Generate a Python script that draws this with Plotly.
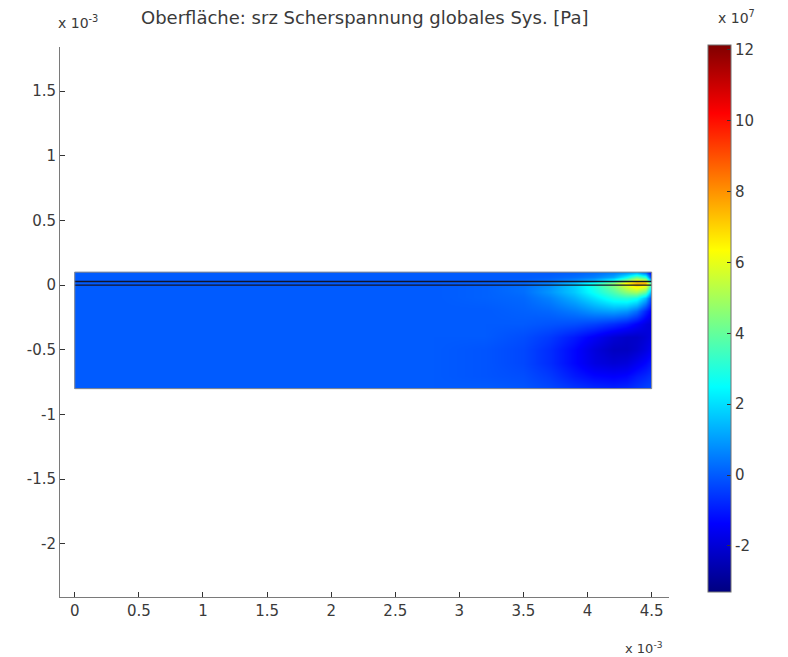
import numpy as np
import plotly.graph_objects as go

# Shear stress srz on the cross-section (values in units of 1e7 Pa, coordinates in mm)
x_nodes = [0.0, 1.0, 2.0, 2.8, 3.2, 3.5, 3.7, 3.9, 4.05, 4.2, 4.3, 4.38, 4.45, 4.5]
y_nodes = [0.1, 0.06, 0.03, 0.015, 0.0, -0.05, -0.1, -0.2, -0.3, -0.4, -0.5, -0.6, -0.7, -0.8]

srz = [
    [0, 0, 0, 0, 0.0, 0.0, 0.0, 0.1, 0.3, 0.6, 1.0, 1.5, 0.5, -1.5],
    [0, 0, 0, 0, 0.0, 0.0, 0.1, 0.3, 0.6, 1.2, 2.5, 4.0, 3.0, -1.0],
    [0, 0, 0, 0, 0.0, 0.1, 0.3, 0.8, 1.5, 3.0, 5.0, 6.5, 6.0, 1.0],
    [0, 0, 0, 0, 0.1, 0.2, 0.6, 1.5, 2.8, 4.5, 6.5, 7.5, 7.5, 3.0],
    [0, 0, 0, 0, 0.1, 0.3, 0.8, 1.8, 3.0, 4.5, 6.0, 7.0, 6.5, 3.0],
    [0, 0, 0, 0, 0.1, 0.3, 0.9, 1.7, 2.7, 3.7, 4.6, 5.0, 4.0, 1.0],
    [0, 0, 0, 0, 0.1, 0.2, 0.6, 1.3, 2.1, 2.9, 3.1, 2.8, 1.5, -0.5],
    [0, 0, 0, 0, 0.0, 0.1, 0.2, 0.5, 0.9, 1.1, 0.9, 0.3, -0.8, -1.5],
    [0, 0, 0, 0, 0.0, 0.0, -0.1, -0.2, -0.4, -0.7, -1.0, -1.4, -1.8, -2.0],
    [0, 0, 0, 0, 0.0, -0.2, -0.5, -1.0, -1.5, -2.0, -2.2, -2.2, -2.0, -1.8],
    [0, 0, 0, 0, -0.1, -0.3, -0.7, -1.3, -1.9, -2.3, -2.3, -2.1, -1.8, -1.5],
    [0, 0, 0, 0, -0.1, -0.3, -0.7, -1.3, -1.8, -2.0, -1.9, -1.6, -1.3, -1.0],
    [0, 0, 0, 0, -0.1, -0.2, -0.5, -1.0, -1.3, -1.4, -1.3, -1.0, -0.8, -0.6],
    [0, 0, 0, 0, 0.0, -0.1, -0.3, -0.6, -0.8, -0.9, -0.8, -0.6, -0.4, -0.3],
]

# Colour range of the colour bar
c_min, c_max = -3.3, 12.14
cbar_ticks = [-2, 0, 2, 4, 6, 8, 10, 12]

x_ticks = [0, 0.5, 1, 1.5, 2, 2.5, 3, 3.5, 4, 4.5]
x_tick_text = ["0", "0.5", "1", "1.5", "2", "2.5", "3", "3.5", "4", "4.5"]
y_ticks = [-2, -1.5, -1, -0.5, 0, 0.5, 1, 1.5]
y_tick_text = ["-2", "-1.5", "-1", "-0.5", "0", "0.5", "1", "1.5"]

# Domain boundaries
x_left, x_right = 0.0, 4.5
y_top, y_bottom = 0.1, -0.8
layer_lines = [0.028, 0.0]

jet = [
    [0.0, "rgb(0,0,128)"],
    [0.125, "rgb(0,0,255)"],
    [0.375, "rgb(0,255,255)"],
    [0.625, "rgb(255,255,0)"],
    [0.875, "rgb(255,0,0)"],
    [1.0, "rgb(128,0,0)"],
]

# pad the grid with nodes right at the edges so the smoothed image stays inside the domain
z = np.array(srz, dtype=float)
xa = np.array(x_nodes)
ya = np.array(y_nodes)
eps = 0.004
xa = np.concatenate([[xa[0]], [xa[0] + eps], xa[1:-1], [xa[-1] - eps], [xa[-1]]])
z = np.concatenate([z[:, :1], z[:, :1], z[:, 1:-1], z[:, -1:], z[:, -1:]], axis=1)
ya = np.concatenate([[ya[0]], [ya[0] - eps], ya[1:-1], [ya[-1] + eps], [ya[-1]]])
z = np.concatenate([z[:1], z[:1], z[1:-1], z[-1:], z[-1:]], axis=0)

FAMILY = "DejaVu Sans, Liberation Sans, sans-serif"
TXT = "#3a3a3a"
font = dict(family=FAMILY, size=15, color=TXT)

# plot area in pixels: x 60..669, y 47..597
plot_w, plot_h = 609, 550

fig = go.Figure()
fig.add_trace(go.Heatmap(
    x=xa, y=ya, z=z,
    zsmooth="best",
    colorscale=jet, zmin=c_min, zmax=c_max,
    hoverinfo="skip",
    colorbar=dict(
        x=(708 - 60) / plot_w, xanchor="left",
        y=(597 - 45) / plot_h, yanchor="top",
        thicknessmode="pixels", thickness=23,
        lenmode="pixels", len=547,
        outlinecolor="#707070", outlinewidth=1,
        tickvals=cbar_ticks, ticktext=[str(t) for t in cbar_ticks],
        ticks="inside", ticklen=4, tickcolor="#333",
        tickfont=dict(family=FAMILY, size=15, color=TXT),
        xpad=0, ypad=0,
    ),
))

# layer boundary lines
for yl in layer_lines:
    fig.add_trace(go.Scatter(
        x=[x_left, x_right], y=[yl, yl], mode="lines",
        line=dict(color="#141428", width=1.4),
        showlegend=False, hoverinfo="skip",
    ))

# domain outline
fig.add_trace(go.Scatter(
    x=[x_left, x_right, x_right, x_left, x_left],
    y=[y_top, y_top, y_bottom, y_bottom, y_top],
    mode="lines", line=dict(color="#8a8a8a", width=1),
    showlegend=False, hoverinfo="skip",
))

fig.update_layout(
    width=788, height=657,
    margin=dict(l=60, r=119, t=47, b=60),
    paper_bgcolor="white", plot_bgcolor="white",
    font=font,
    showlegend=False,
    xaxis=dict(
        range=[-0.115, 4.635], showgrid=False, zeroline=False,
        showline=True, linecolor="#7a7a7a", linewidth=1,
        ticks="inside", ticklen=5, tickcolor="#333",
        tickvals=x_ticks, ticktext=x_tick_text,
    ),
    yaxis=dict(
        range=[-2.41, 1.84], showgrid=False, zeroline=False,
        showline=True, linecolor="#7a7a7a", linewidth=1,
        ticks="inside", ticklen=5, tickcolor="#333",
        tickvals=y_ticks, ticktext=y_tick_text,
    ),
    annotations=[
        dict(text="Oberfläche: srz Scherspannung globales Sys. [Pa]",
             xref="paper", yref="paper", x=0.5, xshift=0, y=1, yshift=17,
             xanchor="center", yanchor="bottom", showarrow=False,
             font=dict(family=FAMILY, size=18, color=TXT)),
        dict(text="x 10<sup>-3</sup>", xref="paper", yref="paper",
             x=0, xshift=-4, y=1, yshift=14, xanchor="left", yanchor="bottom",
             showarrow=False, font=dict(family=FAMILY, size=14, color=TXT)),
        dict(text="x 10<sup>-3</sup>", xref="paper", yref="paper",
             x=1, xshift=-4, y=0, yshift=-51, xanchor="right", yanchor="middle",
             showarrow=False, font=dict(family=FAMILY, size=13, color=TXT)),
        dict(text="x 10<sup>7</sup>", xref="paper", yref="paper",
             x=1, xshift=47, y=1, yshift=19, xanchor="left", yanchor="bottom",
             showarrow=False, font=dict(family=FAMILY, size=14, color=TXT)),
    ],
)

fig.write_html("out.html")
